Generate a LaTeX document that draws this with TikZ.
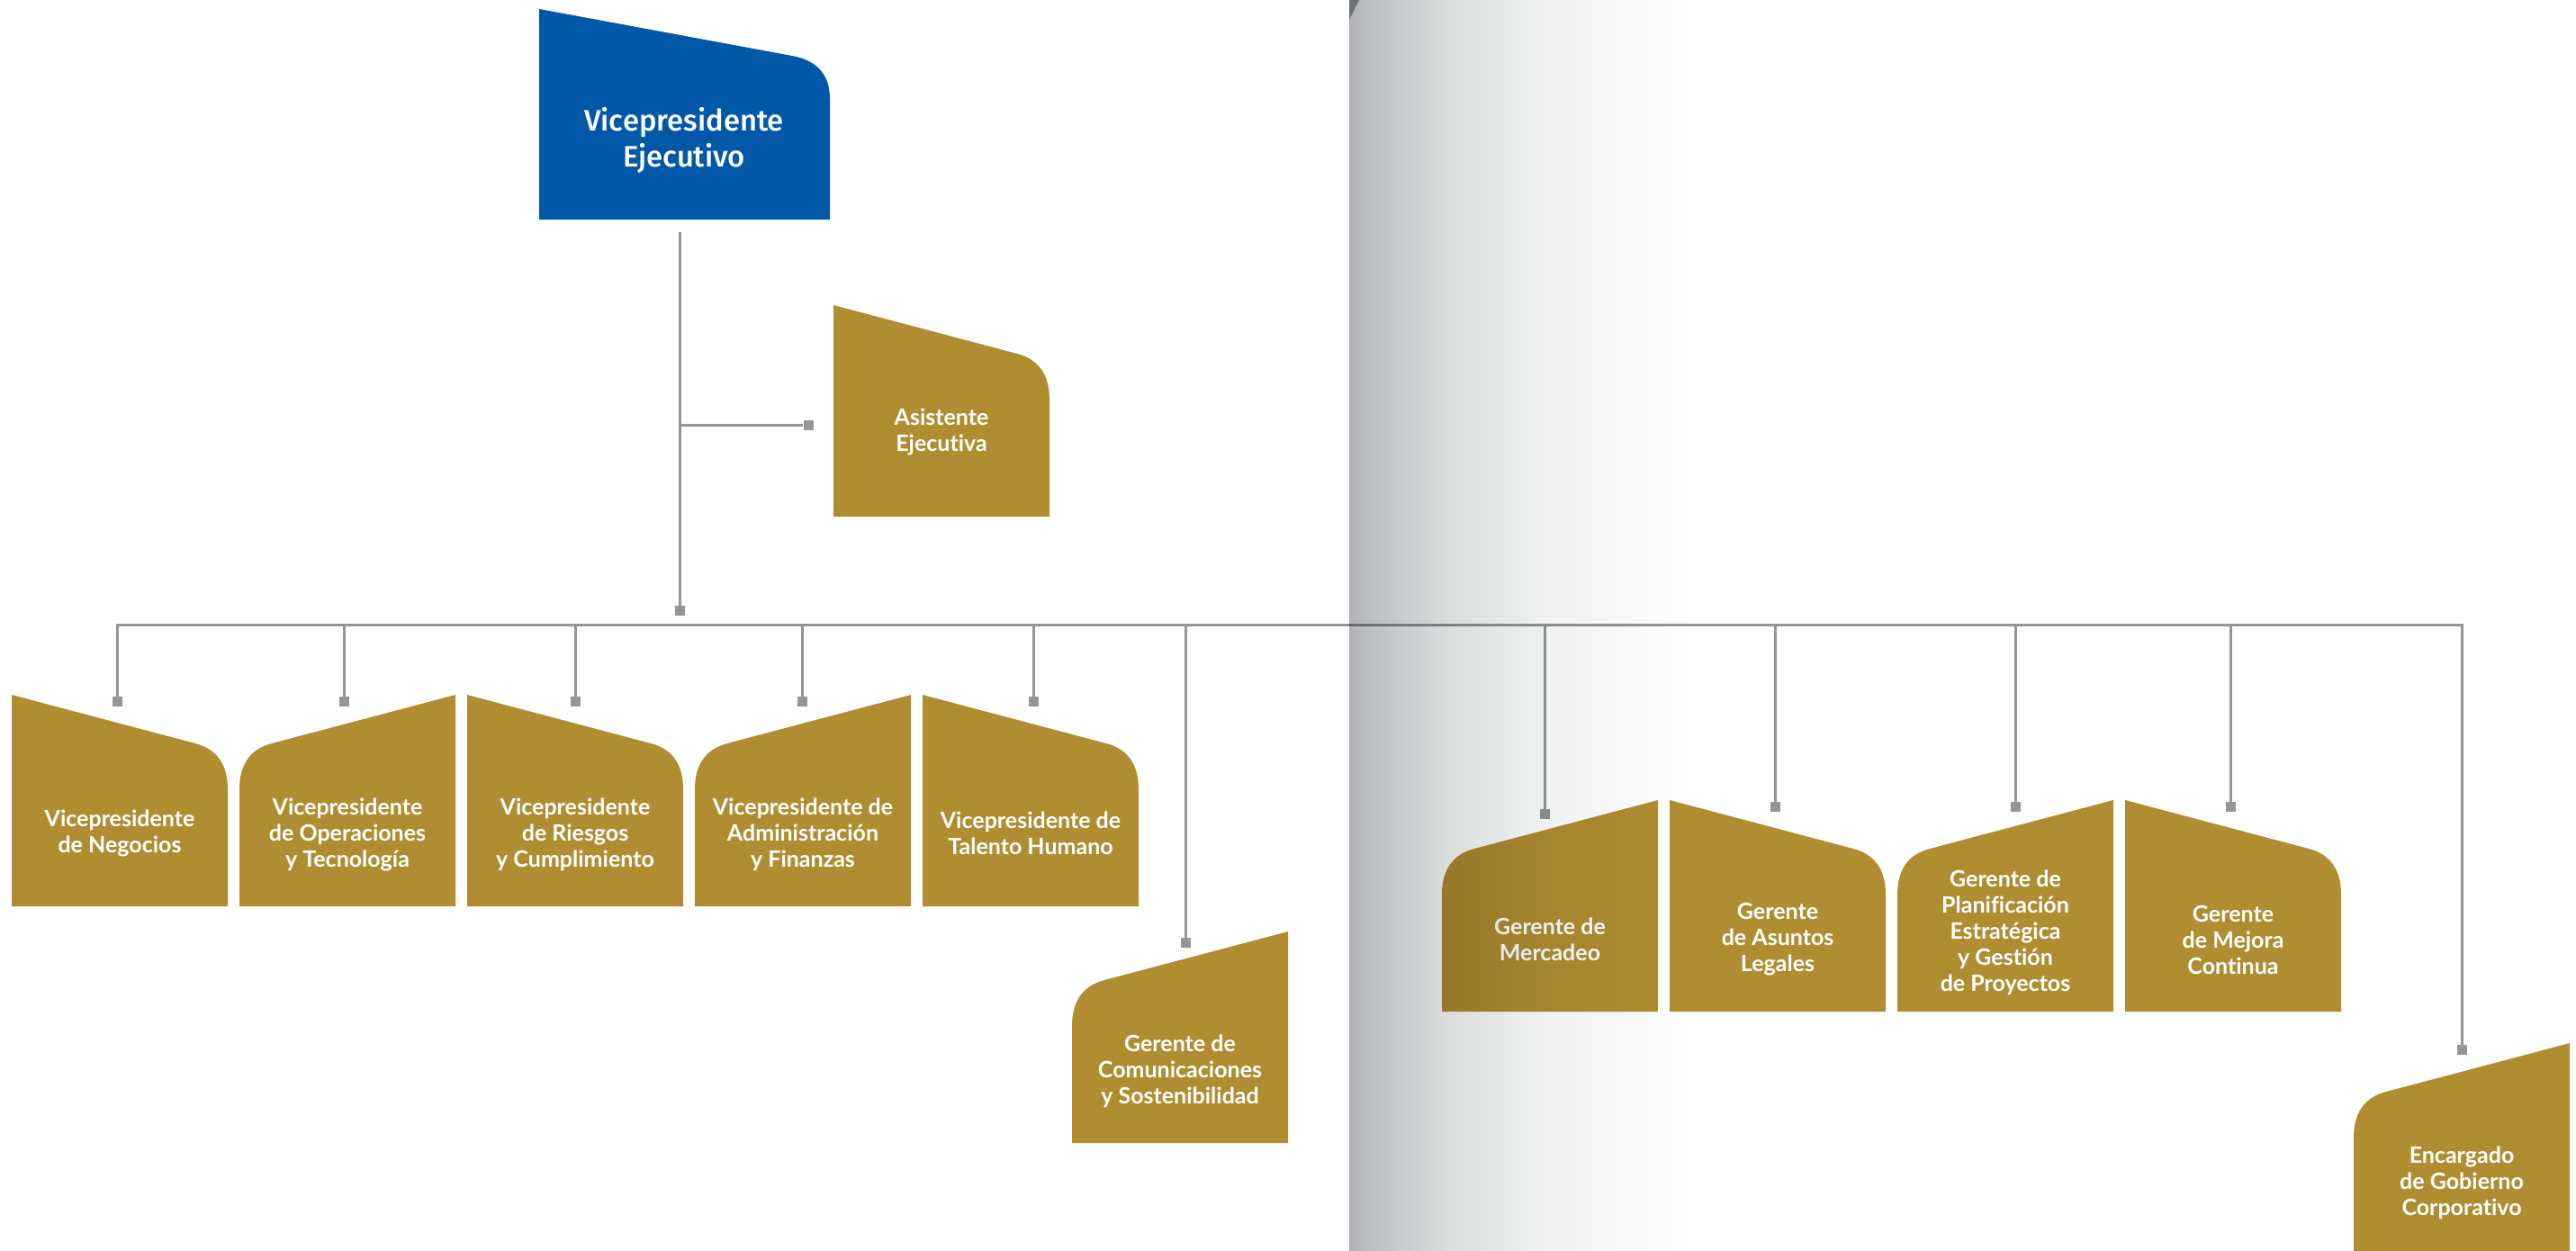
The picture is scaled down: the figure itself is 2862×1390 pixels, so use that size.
\documentclass[tikz,border=0pt]{standalone}
\usepackage{fontspec}
\setmainfont{Lato}[Ligatures=NoCommon]
\newfontfamily\bluefont{Fira Sans Medium}[Ligatures=NoCommon]
\definecolor{gold}{RGB}{176,141,49}
\definecolor{vpblue}{RGB}{2,88,168}
\definecolor{conncol}{RGB}{147,149,152}
\definecolor{foldcorner}{RGB}{108,114,121}
\definecolor{f0}{HTML}{B1B2B5}
\definecolor{f1}{HTML}{BDBEC1}
\definecolor{f2}{HTML}{CBCCCE}
\definecolor{f3}{HTML}{DCDDDD}
\definecolor{f4}{HTML}{EFF0F0}
\definecolor{f5}{HTML}{F8F8F8}
\definecolor{f6}{HTML}{FFFFFF}
\pgfdeclarehorizontalshading{fold}{100bp}{color(0bp)=(f0); color(25bp)=(f0); color(25.77bp)=(f1); color(27.24bp)=(f2); color(29.18bp)=(f3); color(32.85bp)=(f4); color(36.04bp)=(f5); color(38.98bp)=(f6); color(100bp)=(f6)}
\newcommand\shapeHL[2]{\fill[gold,shift={(#1,#2)}] (0,0) -- (204,54) .. controls (228,60.3) and (240,77.3) .. (240,105) -- (240,235) -- (0,235) -- cycle;}
\newcommand\shapeHR[2]{\fill[gold,shift={(#1,#2)}] (240,0) -- (36,54) .. controls (12,60.3) and (0,77.3) .. (0,105) -- (0,235) -- (240,235) -- cycle;}
\begin{document}
\begin{tikzpicture}[x=0.5pt,y=-0.5pt,
  lbl/.style={text=white, align=center, inner sep=0pt, font=\bfseries\fontsize{12.5}{14.5}\selectfont},
  bluelbl/.style={text=white, align=center, inner sep=0pt, font=\bluefont\fontsize{16.4}{20}\selectfont},
  sq/.style={fill=conncol, draw=none, minimum size=5.5pt, inner sep=0pt},
  link/.style={draw=conncol, line width=1.5pt}]
\useasboundingbox (0,0) rectangle (2862,1390);

% boxes
\fill[vpblue] (599,10) -- (880,62) .. controls (908,67.2) and (922,83) .. (922,110) -- (922,244) -- (599,244) -- cycle;
\shapeHL{926}{339}
\shapeHL{13}{772}
\shapeHR{266}{772}
\shapeHL{519}{772}
\shapeHR{772}{772}
\shapeHL{1025}{772}
\shapeHR{1191}{1035}
\shapeHR{1602}{889}
\shapeHL{1855}{889}
\shapeHR{2108}{889}
\shapeHL{2361}{889}
\shapeHR{2615}{1159}

% labels
\node[bluelbl] (vpe) at (760,156) {Vicepresidente\\Ejecutivo};
\node[lbl] (asis) at (1046,480) {Asistente\\Ejecutiva};
\node[lbl] (neg) at (133,926) {Vicepresidente\\de Negocios};
\node[lbl] (ope) at (386,927) {Vicepresidente\\de Operaciones\\y Tecnología};
\node[lbl] (rie) at (639,927) {Vicepresidente\\de Riesgos\\y Cumplimiento};
\node[lbl] (adm) at (892,927) {Vicepresidente de\\Administración\\y Finanzas};
\node[lbl] (tal) at (1145,926) {Vicepresidente de\\Talento Humano};
\node[lbl] (com) at (1311,1190) {Gerente de\\Comunicaciones\\y Sostenibilidad};
\node[lbl] (mer) at (1722,1044) {Gerente de\\Mercadeo};
\node[lbl] (leg) at (1975,1044) {Gerente\\de Asuntos\\Legales};
\node[lbl] (pla) at (2228,1036) {Gerente de\\Planificación\\Estratégica\\y Gestión\\de Proyectos};
\node[lbl] (mej) at (2481,1044) {Gerente\\de Mejora\\Continua};
\node[lbl] (enc) at (2735,1314) {Encargado\\de Gobierno\\Corporativo};

% connectors
\coordinate (vtop) at (755.5,258);
\coordinate (asj) at (755.5,472);
\coordinate (busy) at (0,694.5);
\node[sq] (sqm) at (755.5,678.5) {};
\node[sq] (sqa) at (898,472) {};
\node[sq] (s1) at (130.5,779.5) {};
\node[sq] (s2) at (382.5,779.5) {};
\node[sq] (s3) at (639,779.5) {};
\node[sq] (s4) at (891,779.5) {};
\node[sq] (s5) at (1148,779.5) {};
\node[sq] (s6) at (1317,1047) {};
\node[sq] (s7) at (1716,904) {};
\node[sq] (s8) at (1972,896.5) {};
\node[sq] (s9) at (2239,896.5) {};
\node[sq] (s10) at (2478,896.5) {};
\node[sq] (s11) at (2735.5,1166.5) {};

\draw[link] (vtop) -- (sqm);
\draw[link] (asj) -- (sqa);
\draw[link] (s1.center) -- (s1.center |- busy) -- (s11.center |- busy) -- (s11.center);
\foreach \s in {s2,s3,s4,s5,s6,s7,s8,s9,s10}{
  \draw[link] (\s.center |- busy) -- (\s.center);
}

% page fold shading
\shade[shading=fold, blend mode=multiply] (1499,0) rectangle (2862,1390);
\fill[foldcorner] (1499,0) -- (1510,0) -- (1499,22) -- cycle;
\end{tikzpicture}
\end{document}
